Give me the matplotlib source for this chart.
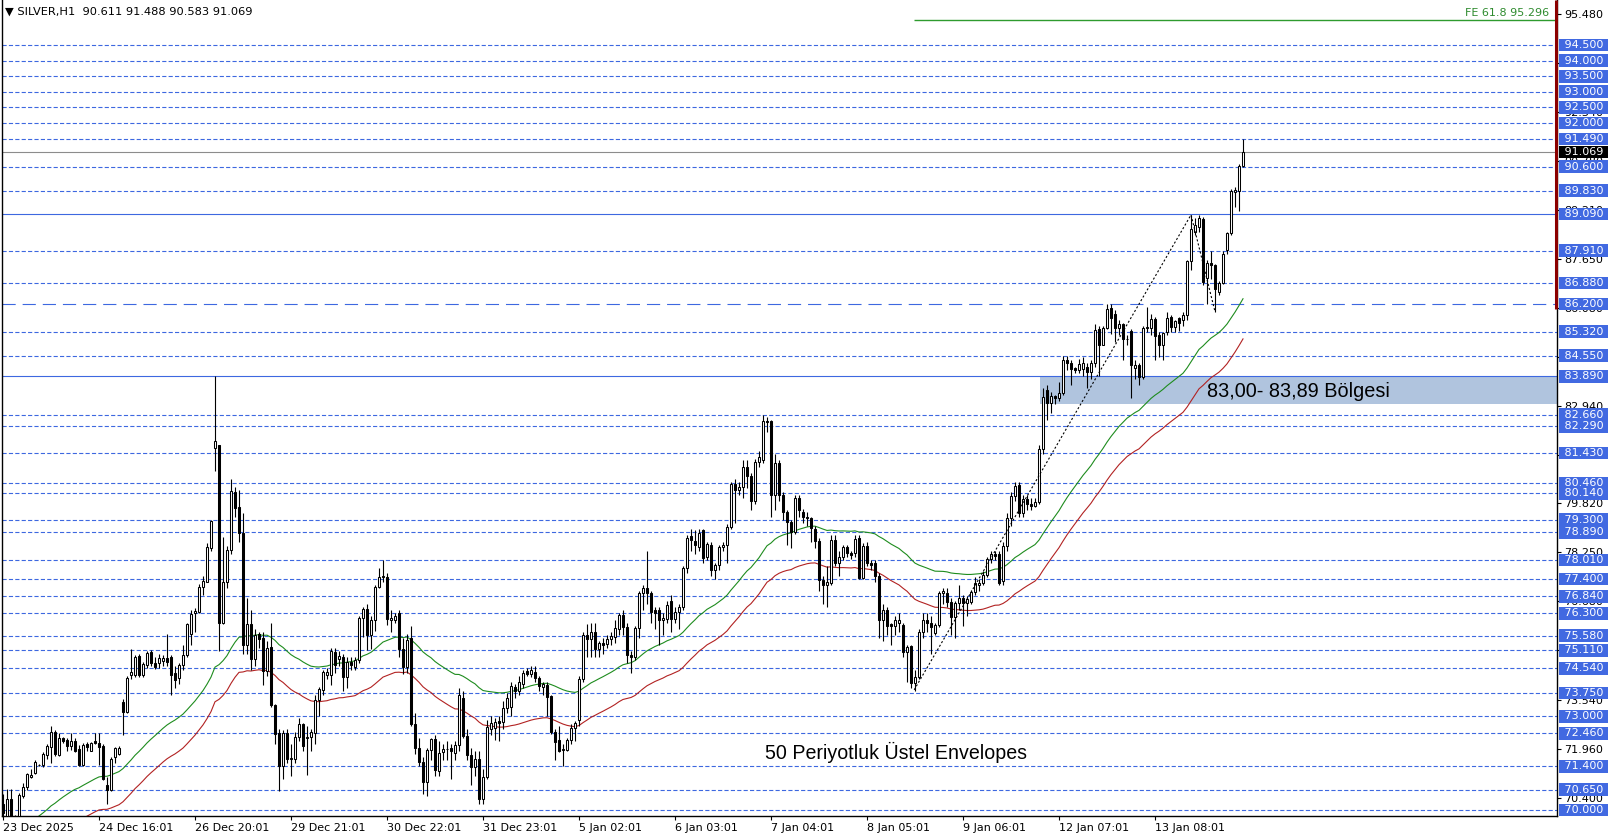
import matplotlib
matplotlib.use("Agg")
import matplotlib.pyplot as plt
from matplotlib.patches import Rectangle
import numpy as np
import pandas as pd

plt.rcParams['font.family'] = ['DejaVu Sans']
plt.rcParams['lines.scale_dashes'] = False

# SILVER H1 candles (23 Dec 2025 -> 14 Jan)
opens = [
    70.2, 69.7, 70.37, 69.78, 69.8, 70.45, 70.75, 71.07, 71.2, 71.44,
    71.44, 71.76, 72.03, 72.51, 71.76, 72.3, 72.24, 72.05, 72.21, 71.94,
    71.44, 72.11, 71.9, 72.21, 72.16, 72.05, 70.8, 70.64, 71.71, 71.79,
    73.45, 73.14, 74.32, 74.32, 74.93, 74.32, 74.64, 75.06, 74.7, 74.7,
    74.78, 74.88, 74.91, 74.38, 74.22, 74.64, 74.96, 75.63, 76.3, 76.35,
    77.13, 77.31, 78.38, 81.61, 81.69, 75.98, 77.31, 78.33, 80.17, 79.72,
    78.88, 75.29, 75.95, 74.83, 75.63, 75.52, 74.46, 75.23, 73.36, 72.48,
    71.41, 72.48, 71.62, 71.62, 72.33, 72.75, 72.3, 72.33, 72.48, 73.52,
    73.84, 74.32, 74.32, 75.07, 74.83, 74.91, 74.27, 74.75, 74.57, 74.8,
    76.16, 76.43, 75.6, 76.09, 77.15, 77.45, 77.45, 76.1, 76.08, 76.32,
    75.15, 74.57, 75.5, 72.75, 72.0, 71.55, 70.9, 71.92, 72.26, 71.26,
    71.85, 71.95, 71.98, 71.82, 72.08, 73.6, 72.37, 71.76, 71.39, 71.65,
    70.37, 71.07, 72.6, 72.62, 72.85, 72.83, 73.26, 73.3, 73.93, 73.8,
    74.04, 74.46, 74.36, 74.43, 74.22, 73.95, 74.0, 73.65, 72.5, 72.24,
    71.92, 71.92, 72.24, 72.62, 72.9, 74.19, 75.6, 75.47, 75.7, 75.15,
    75.34, 75.32, 75.47, 75.55, 75.8, 76.25, 75.87, 74.96, 74.9, 75.83,
    76.94, 77.1, 76.94, 76.42, 76.4, 76.08, 76.11, 76.7, 76.11, 76.35,
    76.5, 77.76, 78.78, 78.62, 78.43, 78.97, 78.1, 78.49, 77.69, 77.85,
    78.43, 78.49, 79.08, 80.44, 80.25, 80.33, 80.98, 80.71, 79.9, 81.15,
    81.2, 82.45, 82.47, 80.09, 81.1, 80.09, 79.55, 79.23, 78.9, 79.98,
    79.55, 79.4, 79.35, 79.0, 78.61, 77.37, 77.21, 77.28, 78.65, 77.92,
    78.09, 78.43, 78.24, 78.24, 78.7, 77.42, 78.46, 77.92, 77.9, 77.5,
    76.1, 76.42, 75.95, 75.89, 76.0, 75.93, 75.07, 75.25, 74.08, 74.27,
    75.71, 76.09, 76.0, 75.68, 75.93, 76.96, 76.96, 76.65, 76.17, 76.62,
    76.78, 76.62, 76.67, 76.99, 77.2, 77.26, 77.53, 78.03, 78.2, 78.2,
    77.34, 78.46, 79.34, 80.06, 80.41, 79.52, 79.95, 79.8, 79.74, 79.85,
    81.55, 83.45, 83.05, 83.26, 83.19, 83.35, 84.41, 84.3, 84.15, 84.09,
    84.11, 84.2, 84.03, 84.33, 85.4, 84.9, 85.45, 86.07, 85.9, 85.45,
    85.58, 85.07, 85.35, 84.15, 84.26, 83.88, 85.43, 85.43, 85.72, 85.2,
    84.89, 85.3, 85.78, 85.48, 85.75, 85.7, 85.84, 87.58, 88.52, 88.68,
    88.92, 87.03, 87.51, 87.45, 86.6, 86.89, 87.92, 88.47, 89.8, 89.83, 90.611,
]
highs = [
    70.5, 70.66, 70.66, 69.85, 70.56, 70.87, 71.2, 71.3, 71.61, 71.48,
    71.87, 72.11, 72.69, 72.56, 72.46, 72.35, 72.32, 72.48, 72.3, 72.08,
    72.16, 72.19, 72.19, 72.48, 72.46, 72.11, 71.06, 71.71, 72.03, 72.05,
    73.55, 74.3, 75.15, 74.97, 75.0, 74.75, 75.1, 75.12, 74.9, 75.0,
    74.97, 75.64, 74.97, 74.6, 74.7, 75.3, 76.0, 76.4, 76.46, 77.25,
    77.5, 78.55, 79.3, 83.89, 81.7, 78.75, 78.45, 80.6, 80.33, 80.25,
    79.5, 76.8, 76.4, 75.8, 75.7, 75.7, 75.4, 76.0, 73.4, 72.6,
    72.55, 72.6, 72.1, 72.5, 72.95, 72.8, 72.7, 72.6, 73.7, 73.95,
    74.5, 74.55, 75.2, 75.2, 75.1, 75.0, 74.9, 74.9, 74.9, 76.2,
    76.5, 76.6, 76.2, 77.2, 77.74, 78.02, 77.6, 76.4, 76.3, 76.4,
    75.5, 75.65, 75.9, 73.1, 72.3, 71.7, 72.0, 72.3, 72.4, 72.2,
    72.1, 72.2, 72.1, 72.2, 73.9, 73.8, 72.6, 72.0, 71.9, 71.9,
    71.3, 72.9, 73.0, 72.95, 73.0, 73.5, 73.75, 74.1, 74.05, 74.3,
    74.5, 74.55, 74.6, 74.6, 74.3, 74.1, 74.1, 73.7, 72.6, 72.7,
    72.1, 72.3, 72.75, 72.85, 74.3, 75.7, 75.95, 76.0, 76.0, 75.4,
    75.5, 75.6, 75.7, 76.1, 76.3, 76.4, 76.0, 75.1, 75.9, 77.0,
    77.2, 78.3, 77.0, 76.5, 76.5, 76.3, 76.7, 76.9, 76.5, 76.6,
    77.8, 78.8, 79.0, 78.96, 79.0, 79.0, 78.6, 78.6, 77.9, 78.5,
    78.6, 79.15, 80.5, 80.6, 80.5, 81.2, 81.2, 80.8, 81.25, 81.5,
    82.65, 82.6, 82.5, 81.4, 81.2, 80.2, 79.6, 79.3, 80.1, 80.1,
    79.65, 79.55, 79.4, 79.1, 78.7, 77.5, 77.8, 78.8, 78.8, 78.3,
    78.5, 78.5, 78.3, 78.8, 78.8, 78.55, 78.6, 78.0, 78.0, 77.6,
    76.6, 76.5, 76.0, 76.2, 76.3, 76.0, 75.3, 75.3, 74.5, 75.8,
    76.3, 76.3, 76.2, 76.0, 77.0, 77.1, 77.1, 76.8, 76.7, 77.2,
    76.9, 76.85, 77.05, 77.45, 77.4, 77.65, 78.1, 78.3, 78.3, 78.3,
    78.6, 79.5, 80.2, 80.5, 80.5, 80.1, 80.1, 80.0, 80.0, 81.7,
    83.5, 83.6, 83.4, 83.3, 83.7, 84.55, 84.55, 84.4, 84.2, 84.45,
    84.5, 84.3, 84.4, 85.55, 85.5, 85.5, 86.2, 86.2, 86.0, 85.7,
    85.6, 85.2, 85.4, 84.4, 84.3, 85.5, 86.1, 85.9, 85.8, 85.3,
    85.3, 85.95, 85.85, 85.7, 85.8, 85.95, 87.6, 89.06, 88.95, 89.06,
    89.0, 87.6, 87.9, 87.5, 86.95, 87.9, 88.5, 89.9, 89.95, 90.7, 91.488,
]
lows = [
    69.6, 69.6, 69.6, 69.6, 69.7, 70.4, 70.64, 71.02, 71.15, 71.42,
    71.37, 71.65, 71.52, 71.73, 71.73, 72.15, 71.9, 71.92, 71.87, 71.41,
    71.41, 71.9, 71.88, 72.1, 71.44, 70.96, 70.19, 70.6, 71.52, 71.75,
    72.4, 73.1, 74.2, 74.25, 74.25, 74.25, 74.56, 74.62, 74.53, 74.56,
    74.62, 74.6, 73.7, 73.9, 74.05, 74.5, 74.9, 75.3, 75.71, 76.3,
    76.9, 77.3, 78.3, 80.87, 75.1, 75.97, 77.1, 78.2, 79.4, 78.6,
    75.0, 75.0, 74.5, 74.6, 75.2, 74.0, 74.3, 73.3, 72.1, 70.6,
    71.0, 71.5, 71.1, 71.5, 72.2, 71.9, 71.12, 71.9, 72.1, 73.0,
    73.7, 74.2, 74.0, 74.4, 74.6, 73.8, 73.9, 74.5, 74.5, 74.7,
    75.55, 75.12, 75.17, 75.72, 77.1, 77.3, 75.93, 75.7, 76.0, 74.9,
    74.35, 74.4, 72.7, 71.8, 71.4, 70.5, 70.45, 71.6, 71.1, 71.1,
    71.6, 71.6, 71.0, 71.6, 71.9, 72.3, 71.6, 70.8, 71.1, 70.2,
    70.2, 71.0, 72.4, 72.25, 72.2, 72.6, 73.1, 73.0, 73.6, 73.7,
    73.9, 74.3, 74.25, 74.1, 73.8, 73.7, 73.0, 72.45, 71.6, 71.85,
    71.4, 71.9, 72.1, 72.2, 72.7, 74.1, 74.9, 74.9, 74.9, 74.9,
    75.0, 75.2, 75.3, 75.35, 75.6, 75.6, 74.7, 74.4, 74.8, 75.5,
    76.4, 76.6, 76.0, 75.8, 75.3, 75.6, 76.0, 75.7, 76.0, 75.8,
    76.4, 77.6, 78.3, 78.2, 78.3, 77.9, 78.0, 77.5, 77.4, 77.7,
    78.3, 77.9, 79.0, 79.2, 80.1, 80.0, 80.3, 79.6, 79.8, 81.0,
    81.1, 82.1, 79.4, 79.6, 79.9, 79.3, 78.5, 78.4, 78.85, 79.4,
    79.2, 79.1, 78.6, 78.4, 77.0, 76.6, 76.5, 77.2, 77.8, 77.5,
    78.0, 78.1, 78.05, 78.1, 77.4, 77.4, 77.8, 77.7, 77.3, 75.5,
    75.4, 75.6, 75.3, 75.6, 75.7, 74.9, 74.1, 73.9, 73.8, 74.2,
    75.5, 75.7, 75.0, 75.6, 75.85, 76.6, 76.5, 75.6, 75.5, 76.4,
    75.9, 76.2, 76.6, 76.9, 77.0, 77.2, 77.45, 77.9, 78.0, 77.2,
    77.2, 78.3, 79.1, 79.9, 79.4, 79.4, 79.6, 79.6, 79.7, 79.8,
    81.4, 82.5, 82.7, 83.0, 83.1, 83.3, 84.1, 83.6, 84.0, 84.0,
    83.9, 83.5, 83.8, 84.2, 83.9, 84.9, 85.4, 85.25, 85.0, 85.2,
    84.4, 84.9, 83.2, 83.8, 83.6, 83.8, 85.3, 85.2, 84.4, 84.5,
    84.4, 85.2, 85.3, 85.3, 85.35, 85.5, 85.7, 87.3, 88.4, 88.5,
    86.8, 86.21, 87.0, 85.96, 86.5, 86.85, 87.8, 88.4, 89.3, 89.17, 90.583,
]
closes = [
    69.9, 70.34, 69.7, 69.82, 70.48, 70.75, 71.14, 71.12, 71.55, 71.45,
    71.79, 72.05, 72.51, 71.79, 72.3, 72.21, 72.05, 72.21, 71.9, 71.44,
    72.08, 72.03, 72.16, 72.14, 72.03, 70.98, 70.64, 71.62, 71.98, 71.98,
    73.14, 74.22, 74.43, 74.91, 74.32, 74.68, 75.04, 74.7, 74.59, 74.86,
    74.88, 74.75, 74.32, 74.16, 74.64, 74.96, 75.95, 76.27, 76.38, 77.15,
    77.35, 78.41, 79.26, 81.82, 75.98, 77.31, 78.33, 80.22, 79.66, 78.88,
    75.29, 75.95, 74.83, 75.6, 75.47, 74.46, 75.18, 73.36, 72.43, 71.41,
    72.48, 71.62, 71.68, 72.35, 72.75, 72.06, 72.35, 72.51, 73.54, 73.87,
    74.43, 74.43, 75.09, 74.64, 74.94, 74.27, 74.75, 74.64, 74.8, 76.16,
    76.43, 75.6, 76.09, 77.15, 77.47, 77.49, 76.11, 76.15, 76.21, 75.15,
    74.57, 75.45, 72.75, 72.0, 71.55, 70.9, 71.92, 72.26, 71.28, 71.84,
    71.95, 71.96, 71.9, 72.08, 73.68, 72.37, 71.76, 71.39, 71.65, 70.37,
    71.07, 72.67, 72.8, 72.83, 72.8, 73.26, 73.6, 73.97, 73.8, 74.11,
    74.38, 74.36, 74.48, 74.22, 73.97, 74.04, 73.63, 72.5, 72.19, 71.9,
    71.95, 72.24, 72.62, 72.78, 74.19, 75.6, 75.47, 75.7, 75.15, 75.34,
    75.3, 75.47, 75.57, 75.83, 76.25, 75.87, 74.96, 74.9, 75.83, 76.94,
    77.1, 76.94, 76.35, 76.32, 76.08, 76.15, 76.57, 76.11, 76.35, 76.5,
    77.76, 78.7, 78.65, 78.49, 78.88, 78.06, 78.52, 77.69, 77.85, 78.43,
    78.49, 79.08, 80.44, 80.25, 80.36, 80.98, 80.71, 79.9, 81.15, 81.3,
    82.45, 82.44, 80.09, 81.1, 80.09, 79.55, 79.23, 78.9, 79.98, 79.6,
    79.4, 79.35, 79.03, 78.61, 77.37, 77.21, 77.31, 78.65, 77.92, 78.09,
    78.43, 78.24, 78.17, 78.67, 77.42, 78.46, 77.9, 77.85, 77.5, 76.1,
    76.42, 75.89, 75.89, 76.1, 76.1, 75.07, 75.23, 74.08, 74.27, 75.71,
    76.09, 76.0, 75.87, 75.93, 76.96, 77.0, 76.65, 76.17, 76.62, 76.78,
    76.62, 76.75, 76.99, 77.26, 77.26, 77.53, 78.03, 78.2, 78.14, 77.28,
    78.46, 79.34, 80.06, 80.38, 79.52, 79.95, 79.8, 79.74, 79.85, 81.55,
    83.24, 83.05, 83.26, 83.19, 83.35, 84.41, 84.33, 84.11, 84.09, 84.28,
    84.3, 84.03, 84.33, 85.37, 84.9, 85.45, 86.04, 85.75, 85.45, 85.58,
    85.07, 85.1, 84.26, 84.26, 83.88, 85.43, 85.47, 85.72, 85.18, 84.89,
    85.27, 85.75, 85.48, 85.67, 85.6, 85.84, 87.58, 88.6, 88.74, 88.95,
    86.92, 87.51, 87.45, 86.68, 86.89, 87.81, 88.47, 89.83, 89.86, 90.63, 91.069,
]

time_label_bars = [0, 24, 48, 72, 96, 120, 144, 168, 192, 216, 240, 264, 288]
time_labels = ["23 Dec 2025", "24 Dec 16:01", "26 Dec 20:01", "29 Dec 21:01",
               "30 Dec 22:01", "31 Dec 23:01", "5 Jan 02:01", "6 Jan 03:01",
               "7 Jan 04:01", "8 Jan 05:01", "9 Jan 06:01", "12 Jan 07:01",
               "13 Jan 08:01"]

# horizontal levels drawn on the chart
dashed_levels = [94.5, 94.0, 93.5, 93.0, 92.5, 92.0, 91.49, 90.6, 89.83, 87.91,
                 86.88, 85.32, 84.55, 82.66, 82.29, 81.43, 80.46, 80.14, 79.3,
                 78.89, 78.01, 77.4, 76.84, 76.3, 75.58, 75.11, 74.54, 73.75,
                 73.0, 72.46, 71.4, 70.65, 70.0]
long_dash_level = 86.2
solid_levels = [89.09, 83.89]
price_ticks = [95.48, 93.91, 92.34, 90.78, 89.21, 87.65, 86.08, 84.51, 82.94,
               81.37, 79.82, 78.25, 76.68, 75.11, 73.54, 71.96, 70.40]

zone_start_bar = 259.3
zone_low, zone_high = 83.00, 83.89

# Fibonacci expansion anchors (bar, price) and its 61.8 level
fe_bars = [227.8, 297.0, 303.0]
fe_prices = [73.85, 89.06, 85.96]
fe_level = 95.296

# 50 period exponential envelopes
ema_period = 50
env_deviation = 0.0075
ema_seed = 68.6

blue = "#3D68E0"
n = len(closes)
bars = np.arange(n)
o = np.array(opens)
h = np.array(highs)
l = np.array(lows)
c = np.array(closes)

fig = plt.figure(figsize=(16.14, 8.40), dpi=100)
ax = fig.add_axes([2 / 1614, 24 / 840, 1555 / 1614, 816 / 840])
x_min, x_max = -0.25, 388.5
ax.set_xlim(x_min, x_max)
ax.set_ylim(69.81, 95.94)

# levels
for lv in dashed_levels:
    ax.axhline(lv, color=blue, lw=0.8, ls=(0, (3, 1.6)), zorder=1)
ax.axhline(long_dash_level, color=blue, lw=0.8, ls=(0, (9.5, 5)), zorder=1)
for lv in solid_levels:
    ax.axhline(lv, color=blue, lw=0.8, zorder=1)
ax.axhline(closes[-1], color="#8C8C8C", lw=0.8, zorder=1)

ax.add_patch(Rectangle((zone_start_bar, zone_low), x_max - zone_start_bar,
                       zone_high - zone_low, facecolor="#B0C4DE",
                       edgecolor="none", zorder=0.5))

# Fibonacci expansion
ax.plot(fe_bars, fe_prices, color="black", lw=0.8, ls=(0, (1.5, 1.5)), zorder=5)
ax.hlines(fe_level, fe_bars[0], x_max, color="#2E9B2E", lw=1.0, zorder=2)
ax.text(x_max - 2.0, fe_level + 0.08, "FE 61.8 95.296", color="#2E8B2E",
        fontsize=8, ha="right", va="bottom", zorder=6)

# envelopes
ema = pd.Series([ema_seed] + closes).ewm(span=ema_period, adjust=False).mean().values[1:]
ax.plot(bars, ema * (1 + env_deviation), color="#1E8C1E", lw=0.8, zorder=2)
ax.plot(bars, ema * (1 - env_deviation), color="#B22222", lw=0.8, zorder=2)

# candles
ax.vlines(bars, l, h, color="black", lw=0.8, zorder=3)
up = c >= o
ax.bar(bars[up], (c - o)[up], bottom=o[up], width=0.5, color="white",
       edgecolor="black", linewidth=0.75, zorder=4)
ax.bar(bars[~up], (o - c)[~up], bottom=c[~up], width=0.5, color="black",
       edgecolor="black", linewidth=0.75, zorder=4)

# right edge marker
ax.vlines(x_max - 0.35, 86.05, 95.94, color="#8B0000", lw=2.2, zorder=6, clip_on=False)

# text notes
ax.text(301, 83.39, "83,00- 83,89 Bölgesi", family="Liberation Sans",
        fontsize=14.3, va="center", ha="left", zorder=7)
ax.text(190.5, 71.86, "50 Periyotluk Üstel Envelopes", family="Liberation Sans",
        fontsize=14.1, va="center", ha="left", zorder=7)

# axes styling
for side in ["left", "right", "bottom"]:
    ax.spines[side].set_color("black")
    ax.spines[side].set_linewidth(1.0)
ax.spines["top"].set_visible(False)

ax.yaxis.tick_right()
ax.set_yticks(price_ticks)
ax.set_yticklabels([f"{v:.3f}" for v in price_ticks])
ax.tick_params(axis="y", length=3, width=0.8, labelsize=8, pad=2)
ax.set_xticks(time_label_bars)
ax.set_xticklabels(time_labels)
ax.tick_params(axis="x", length=3, width=0.8, labelsize=8, pad=2)
for t in ax.get_xticklabels():
    t.set_ha("left")

# boxed price labels on the right axis
ytrans = ax.get_yaxis_transform()
box_x = 1.0024
for lv in dashed_levels + [long_dash_level] + solid_levels:
    ax.text(box_x, lv, f" {lv:.3f} ", transform=ytrans, fontsize=8, color="white",
            va="center", ha="left", clip_on=False, zorder=10,
            bbox=dict(boxstyle="square,pad=0.12", fc="#4169E1", ec="none"))
ax.text(box_x, closes[-1], f" {closes[-1]:.3f} ", transform=ytrans, fontsize=8,
        color="white", va="center", ha="left", clip_on=False, zorder=11,
        bbox=dict(boxstyle="square,pad=0.12", fc="black", ec="none"))

fig.text(5 / 1614, 1 - 12 / 840,
         f"\u25BC SILVER,H1  {opens[-1]:.3f} {highs[-1]:.3f} {lows[-1]:.3f} {closes[-1]:.3f}",
         fontsize=8.2, va="center", ha="left")

fig.savefig("out.png", dpi=100)
